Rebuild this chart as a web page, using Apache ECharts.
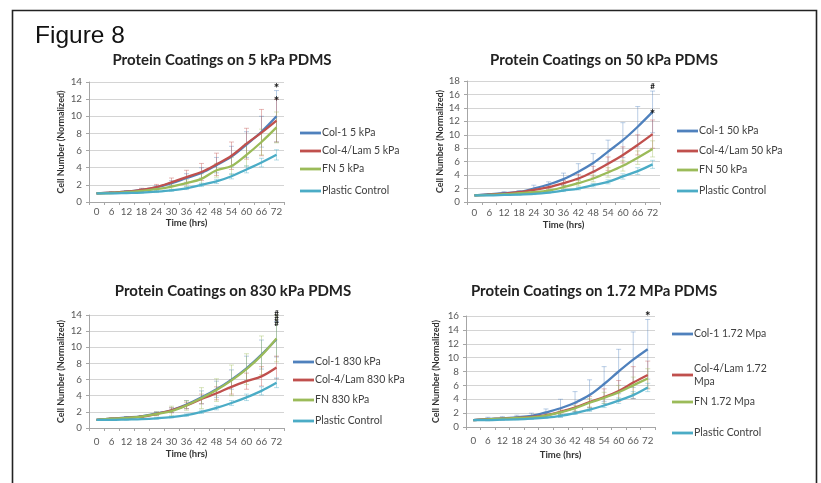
<!DOCTYPE html>
<html><head><meta charset="utf-8">
<script src="https://cdn.jsdelivr.net/npm/echarts@6/dist/echarts.min.js"></script>
<style>html,body{margin:0;padding:0;background:#fff}#c{width:821px;height:483px}</style>
</head><body><div id="c"></div>
<script>
// ---- data ----
const times = ['0','6','12','18','24','30','36','42','48','54','60','66','72'];

// 5 kPa
const k5_col1 = [1, 1.1, 1.2, 1.4, 1.7, 2.2, 2.8, 3.4, 4.3, 5.3, 6.7, 8.2, 10.0];
const k5_col4 = [1, 1.1, 1.2, 1.4, 1.75, 2.3, 2.9, 3.5, 4.4, 5.4, 6.8, 8.1, 9.5];
const k5_fn   = [1, 1.05, 1.15, 1.3, 1.5, 1.8, 2.2, 2.7, 3.7, 4.2, 5.5, 7.0, 8.7];
const k5_pc   = [1, 1.0, 1.05, 1.1, 1.2, 1.35, 1.6, 2.0, 2.4, 3.0, 3.8, 4.6, 5.5];
const k5_col1_err = [0, 0.05, 0.1, 0.15, 0.2, 0.3, 0.5, 0.6, 0.9, 1.2, 1.5, 1.8, 3.0];
const k5_col4_err = [0, 0.1, 0.1, 0.2, 0.3, 0.5, 0.8, 1.0, 1.3, 1.6, 1.8, 2.7, 2.5];
const k5_fn_err   = [0, 0.05, 0.1, 0.1, 0.2, 0.3, 0.4, 0.6, 0.8, 1.0, 1.3, 1.5, 1.8];
const k5_pc_err   = [0, 0.02, 0.05, 0.05, 0.1, 0.1, 0.15, 0.2, 0.25, 0.3, 0.4, 0.5, 0.6];
const k5_sig = [['72', 13.6, '*'], ['72', 12.0, '*']];

// 50 kPa
const k50_col1 = [1, 1.15, 1.3, 1.5, 2.0, 2.6, 3.4, 4.5, 5.8, 7.5, 9.2, 11.2, 13.4];
const k50_col4 = [1, 1.1, 1.25, 1.45, 1.8, 2.2, 2.8, 3.5, 4.5, 5.7, 7.0, 8.5, 10.1];
const k50_fn   = [1, 1.05, 1.15, 1.3, 1.45, 1.7, 2.2, 2.8, 3.5, 4.4, 5.4, 6.6, 7.9];
const k50_pc   = [1, 1.0, 1.05, 1.1, 1.2, 1.4, 1.7, 2.0, 2.5, 3.0, 3.8, 4.6, 5.6];
const k50_col1_err = [0, 0.1, 0.25, 0.2, 0.5, 0.4, 0.9, 1.2, 1.4, 1.7, 2.6, 3.0, 3.1];
const k50_col4_err = [0, 0.05, 0.1, 0.15, 0.2, 0.3, 0.4, 0.6, 0.8, 1.0, 1.2, 1.5, 2.1];
const k50_fn_err   = [0, 0.05, 0.1, 0.1, 0.15, 0.2, 0.3, 0.4, 0.5, 0.7, 0.8, 1.0, 1.2];
const k50_pc_err   = [0, 0.02, 0.05, 0.05, 0.1, 0.1, 0.15, 0.2, 0.25, 0.3, 0.4, 0.5, 0.6];
const k50_sig = [['72', 17.2, '#'], ['72', 13.4, '*']];

// 830 kPa
const k830_col1 = [1, 1.15, 1.3, 1.45, 1.8, 2.2, 2.9, 3.8, 4.8, 6.0, 7.4, 9.1, 11.0];
const k830_col4 = [1, 1.15, 1.25, 1.4, 1.75, 2.2, 2.8, 3.6, 4.3, 5.1, 5.8, 6.4, 7.5];
const k830_fn   = [1, 1.15, 1.25, 1.4, 1.75, 2.1, 2.8, 3.7, 4.7, 5.9, 7.3, 9.0, 11.1];
const k830_pc   = [1, 1.0, 1.05, 1.1, 1.2, 1.35, 1.6, 2.0, 2.5, 3.1, 3.8, 4.6, 5.6];
const k830_col1_err = [0, 0.05, 0.1, 0.1, 0.2, 0.3, 0.5, 0.8, 1.0, 1.2, 1.5, 1.8, 2.2];
const k830_col4_err = [0, 0.05, 0.1, 0.1, 0.2, 0.3, 0.4, 0.6, 0.8, 0.9, 1.0, 1.2, 1.4];
const k830_fn_err   = [0, 0.1, 0.1, 0.1, 0.25, 0.6, 0.6, 1.3, 1.4, 1.9, 1.9, 2.4, 2.9];
const k830_pc_err   = [0, 0.02, 0.05, 0.05, 0.1, 0.1, 0.15, 0.2, 0.25, 0.3, 0.4, 0.5, 0.6];
const k830_sig = [['72', 14.2, '#'], ['72', 13.6, '#'], ['72', 13.0, '#']];

// 1.72 MPa
const m172_col1 = [1, 1.15, 1.25, 1.4, 1.6, 2.1, 2.7, 3.5, 4.6, 6.2, 8.0, 9.7, 11.2];
const m172_col4 = [1, 1.1, 1.2, 1.3, 1.45, 1.7, 2.2, 2.8, 3.6, 4.3, 5.2, 6.4, 7.5];
const m172_fn   = [1, 1.1, 1.2, 1.3, 1.4, 1.65, 2.1, 2.7, 3.5, 4.2, 5.0, 6.0, 7.0];
const m172_pc   = [1, 1.0, 1.05, 1.1, 1.2, 1.35, 1.6, 2.0, 2.5, 3.1, 3.8, 4.6, 5.7];
const m172_col1_err = [0, 0.25, 0.25, 0.3, 0.4, 0.5, 1.3, 1.6, 2.2, 2.5, 3.2, 4.0, 4.3];
const m172_col4_err = [0, 0.05, 0.1, 0.15, 0.2, 0.3, 0.4, 0.6, 0.8, 1.2, 1.5, 2.3, 2.0];
const m172_fn_err   = [0, 0.05, 0.1, 0.1, 0.15, 0.2, 0.3, 0.4, 0.6, 0.8, 1.0, 1.2, 1.4];
const m172_pc_err   = [0, 0.02, 0.05, 0.05, 0.1, 0.1, 0.15, 0.2, 0.25, 0.3, 0.4, 0.5, 0.6];
const m172_sig = [['72', 16.3, '*']];

const figureTitle = 'Figure 8';
const panelTitles = ['Protein Coatings on 5 kPa PDMS', 'Protein Coatings on 50 kPa PDMS',
                     'Protein Coatings on 830 kPa PDMS', 'Protein Coatings on 1.72 MPa PDMS'];
const yMax = [14, 18, 14, 16];
const xName = 'Time (hrs)';
const yName = 'Cell Number (Normalized)';

const panels = [
  { names: ['Col-1 5 kPa', 'Col-4/Lam 5 kPa', 'FN 5 kPa', 'Plastic Control'],
    vals: [k5_col1, k5_col4, k5_fn, k5_pc], errs: [k5_col1_err, k5_col4_err, k5_fn_err, k5_pc_err], sig: k5_sig },
  { names: ['Col-1 50 kPa', 'Col-4/Lam 50 kPa', 'FN 50 kPa', 'Plastic Control'],
    vals: [k50_col1, k50_col4, k50_fn, k50_pc], errs: [k50_col1_err, k50_col4_err, k50_fn_err, k50_pc_err], sig: k50_sig },
  { names: ['Col-1 830 kPa', 'Col-4/Lam 830 kPa', 'FN 830 kPa', 'Plastic Control'],
    vals: [k830_col1, k830_col4, k830_fn, k830_pc], errs: [k830_col1_err, k830_col4_err, k830_fn_err, k830_pc_err], sig: k830_sig },
  { names: ['Col-1 1.72 Mpa', 'Col-4/Lam 1.72 Mpa', 'FN 1.72 Mpa', 'Plastic Control'],
    vals: [m172_col1, m172_col4, m172_fn, m172_pc], errs: [m172_col1_err, m172_col4_err, m172_fn_err, m172_pc_err], sig: m172_sig }
];

// ---- styling / layout ----
const colors = ['#4F81BD', '#C0504D', '#9BBB59', '#4BACC6'];
const FONT = 'Lato, "Noto Sans", sans-serif';
const grids = [
  { left: 89,  top: 82,  width: 195, height: 120 },
  { left: 467, top: 81,  width: 193, height: 121 },
  { left: 89,  top: 315, width: 195, height: 113 },
  { left: 466, top: 316, width: 189, height: 111 }
];
const titlePos = [[222, 53], [604, 53], [233, 284], [594, 284]];
const legendX = [300, 677, 293, 672];
const legendY = [[133, 151, 169, 191], [131, 151, 170, 191], [362, 380, 400, 421], [334, 375, 402, 433]];
const xNameGap = [16, 18, 21, 23];
const yNameGap = [23, 20, 23, 25];
const xLabelMargin = [5, 6, 9, 9];

const option = {
  animation: false,
  backgroundColor: '#fff',
  textStyle: { fontFamily: FONT },
  title: [{ text: figureTitle, left: 35, top: 24, padding: 0,
            textStyle: { fontFamily: '"Liberation Sans", Arial, sans-serif', fontSize: 24.5, fontWeight: 'normal', color: '#111' } }]
    .concat(panelTitles.map((t, i) => ({
      text: t, left: titlePos[i][0], top: titlePos[i][1], textAlign: 'center', padding: 0,
      textStyle: { fontFamily: FONT, fontSize: 15, fontWeight: 'bold', color: '#222' } }))),
  grid: grids.map(g => Object.assign({ containLabel: false, outerBoundsMode: 'none' }, g)),
  xAxis: grids.map((g, i) => ({
    type: 'category', gridIndex: i, data: times, boundaryGap: true,
    name: xName, nameLocation: 'middle', nameGap: xNameGap[i],
    nameTextStyle: { fontSize: 9.5, fontWeight: 'bold', color: '#333', fontFamily: FONT },
    axisLine: { lineStyle: { color: '#a6a6a6', width: 1 } },
    axisTick: { show: true, length: 3, lineStyle: { color: '#a6a6a6' } },
    axisLabel: { interval: 0, fontSize: 9.8, color: '#595959', margin: xLabelMargin[i], fontFamily: FONT },
    splitLine: { show: false }
  })),
  yAxis: grids.map((g, i) => ({
    type: 'value', gridIndex: i, min: 0, max: yMax[i], interval: 2,
    name: yName, nameLocation: 'middle', nameGap: yNameGap[i], nameRotate: 90,
    nameTextStyle: { fontSize: 9, fontWeight: 'bold', color: '#333', fontFamily: FONT },
    axisLine: { show: true, lineStyle: { color: '#a6a6a6', width: 1 } },
    axisTick: { show: true, length: 3, lineStyle: { color: '#a6a6a6' } },
    axisLabel: { fontSize: 9.8, color: '#595959', margin: 7, fontFamily: FONT },
    splitLine: { show: true, lineStyle: { color: '#d4d4d4', width: 1 } }
  })),
  legend: [],
  series: []
};

panels.forEach((p, i) => {
  p.names.forEach((nm, k) => {
    const twoLine = (i === 3 && k === 1);
    const h = twoLine ? 26 : 13;
    option.legend.push({
      data: [nm], orient: 'vertical', left: legendX[i], top: legendY[i][k] - h / 2, padding: 0,
      icon: 'rect', itemWidth: 21, itemHeight: 2.8, selectedMode: false,
      formatter: twoLine ? () => 'Col-4/Lam 1.72\nMpa' : undefined,
      textStyle: { fontSize: 10.5, color: '#404040', fontFamily: FONT, padding: [0, 0, 0, -4], lineHeight: 13 },
      itemStyle: { color: colors[k] }
    });
    option.series.push({
      type: 'custom', xAxisIndex: i, yAxisIndex: i, z: 1, silent: true,
      data: p.vals[k].map((v, j) => [j, v, p.errs[k][j]]),
      encode: { x: 0, y: 1 },
      renderItem: (params, api) => {
        const x = api.value(0), v = api.value(1), e = api.value(2);
        if (!e) return null;
        const top = api.coord([x, v + e]), bot = api.coord([x, v - e]);
        const st = { stroke: colors[k], lineWidth: 1, opacity: 0.4 };
        return { type: 'group', children: [
          { type: 'line', shape: { x1: top[0], y1: top[1], x2: bot[0], y2: bot[1] }, style: st },
          { type: 'line', shape: { x1: top[0] - 2.5, y1: top[1], x2: top[0] + 2.5, y2: top[1] }, style: st },
          { type: 'line', shape: { x1: bot[0] - 2.5, y1: bot[1], x2: bot[0] + 2.5, y2: bot[1] }, style: st }
        ] };
      }
    });
  });
  p.names.forEach((nm, k) => {
    option.series.push({
      name: nm, type: 'line', xAxisIndex: i, yAxisIndex: i, data: p.vals[k], smooth: 0.35,
      showSymbol: false, symbol: 'none', z: 3,
      lineStyle: { color: colors[k], width: 2.3 }, itemStyle: { color: colors[k] }
    });
  });
  option.series.push({
    type: 'custom', xAxisIndex: i, yAxisIndex: i, z: 5, silent: true,
    data: p.sig,
    renderItem: (params, api) => {
      const pt = api.coord([api.value(0), api.value(1)]);
      const t = p.sig[params.dataIndex][2];
      return { type: 'text', style: { text: t, x: pt[0], y: pt[1] + (t === '*' ? 3 : 0), align: 'center', verticalAlign: 'middle',
        fill: '#111', font: 'bold ' + (t === '*' ? 13 : 8) + 'px ' + FONT } };
    }
  });
});

option.graphic = [{ type: 'rect', shape: { x: 12.5, y: 10.5, width: 804, height: 480 },
  style: { fill: null, stroke: '#222', lineWidth: 1.6 }, z: 10, silent: true }];

const chart = echarts.init(document.getElementById('c'), null, { renderer: 'canvas' });
chart.setOption(option);
</script></body></html>
